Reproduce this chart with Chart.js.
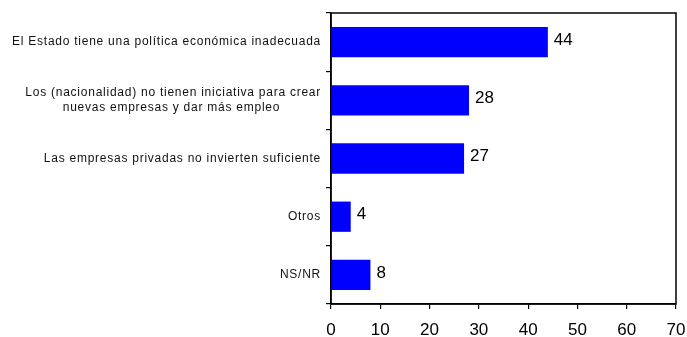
<!DOCTYPE html>
<html>
<head>
<meta charset="utf-8">
<script src="https://cdn.jsdelivr.net/npm/chart.js@4"></script>
<style>
    html, body { margin: 0; padding: 0; background: #fff; }
    #wrap { width: 687px; height: 337px; }
</style>
</head>
<body>
<div id="wrap"><canvas id="motivosChart"></canvas></div>
<script>
const categories = [
    "El Estado tiene una política económica inadecuada",
    ["Los (nacionalidad) no tienen iniciativa para crear", "nuevas empresas y dar más empleo          "],
    "Las empresas privadas no invierten suficiente",
    "Otros",
    "NS/NR"
];

const values = [44, 28, 27, 4, 8];

const xTicks = [0, 10, 20, 30, 40, 50, 60, 70];

// etiquetas de valor a la derecha de cada barra
const valueLabels = {
    id: 'valueLabels',
    afterDatasetsDraw(chart) {
        const ctx = chart.ctx;
        const meta = chart.getDatasetMeta(0);
        ctx.save();
        ctx.fillStyle = '#000';
        ctx.font = '17px "Liberation Sans", Arial, sans-serif';
        ctx.textAlign = 'left';
        ctx.textBaseline = 'middle';
        meta.data.forEach((bar, i) => {
            ctx.fillText(String(values[i]), bar.x + 6, bar.y - 2);
        });
        ctx.restore();
    }
};

// espaciado de letras en las etiquetas del eje y
const spacedLabels = {
    id: 'spacedLabels',
    beforeDraw(chart) {
        const y = chart.scales.y;
        if (y._spaced) return;
        const orig = y.drawLabels.bind(y);
        y.drawLabels = function (area) {
            chart.ctx.save();
            chart.ctx.letterSpacing = '0.75px';
            orig(area);
            chart.ctx.restore();
        };
        y._spaced = true;
    }
};

// marco completo del area del grafico
const frame = {
    id: 'frame',
    afterDraw(chart) {
        const a = chart.chartArea;
        const ctx = chart.ctx;
        ctx.save();
        ctx.strokeStyle = '#000';
        ctx.lineWidth = 1.5;
        ctx.strokeRect(a.left, a.top, a.right - a.left, a.bottom - a.top);
        ctx.restore();
    }
};

new Chart(document.getElementById("motivosChart"), {
    type: 'bar',
    data: {
        labels: categories,
        datasets: [{
            data: values,
            backgroundColor: '#0000FF',
            borderWidth: 0,
            categoryPercentage: 0.52,
            barPercentage: 1
        }]
    },
    options: {
        indexAxis: 'y',
        responsive: true,
        maintainAspectRatio: false,
        animation: false,
        layout: {
            padding: { top: 13, right: 11, left: 0, bottom: 0 }
        },
        plugins: {
            legend: { display: false },
            tooltip: { enabled: false }
        },
        scales: {
            x: {
                min: 0,
                max: 70,
                afterBuildTicks: (axis) => {
                    axis.ticks = xTicks.map(v => ({ value: v }));
                },
                afterFit: (axis) => {
                    axis.height = 33;
                    axis.paddingLeft = 0;
                    axis.paddingRight = 0;
                },
                border: { color: '#000', width: 1.5 },
                grid: {
                    drawOnChartArea: false,
                    color: '#000',
                    tickLength: 5,
                    lineWidth: 1.2
                },
                ticks: {
                    color: '#000',
                    padding: 11,
                    font: { family: '"Liberation Sans", Arial, sans-serif', size: 17 }
                }
            },
            y: {
                afterFit: (axis) => {
                    axis.width = 331;
                    axis.paddingTop = 0;
                    axis.paddingBottom = 0;
                },
                border: { color: '#000', width: 1.5 },
                grid: {
                    drawOnChartArea: false,
                    color: '#000',
                    tickLength: 5,
                    lineWidth: 1.2
                },
                ticks: {
                    color: '#111',
                    padding: 5,
                    font: { family: '"Liberation Sans", Arial, sans-serif', size: 12, lineHeight: 1.2 }
                }
            }
        }
    },
    plugins: [valueLabels, spacedLabels, frame]
});
</script>
</body>
</html>
